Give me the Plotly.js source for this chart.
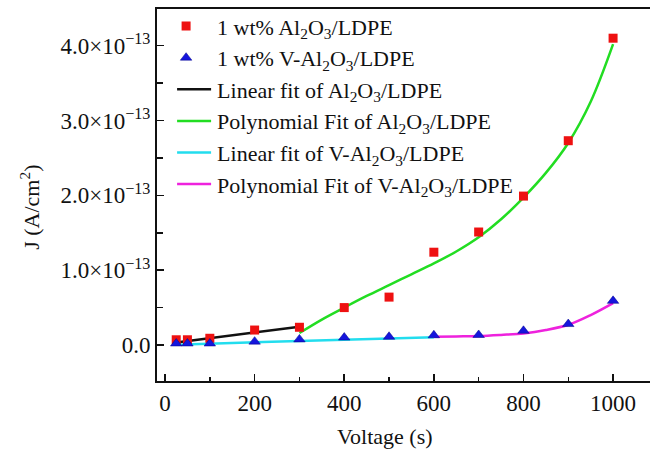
<!DOCTYPE html>
<html>
<head>
<meta charset="utf-8">
<script src="https://cdn.plot.ly/plotly-3.0.1.min.js"></script>
<style>
html, body { margin: 0; padding: 0; overflow: hidden; background: #fff; }
#chart { width: 720px; height: 455px; }
</style>
</head>
<body>
<div id="chart"></div>
<script>
// ---- data (J in units of 1e-13 A/cm^2) ----
const voltage = [25, 50, 100, 200, 300, 400, 500, 600, 700, 800, 900, 1000];
const jAl2O3 = [0.07, 0.07, 0.09, 0.20, 0.237, 0.50, 0.64, 1.24, 1.51, 1.99, 2.73, 4.10];
const jVAl2O3 = [0.02, 0.02, 0.02, 0.045, 0.075, 0.10, 0.11, 0.13, 0.134, 0.19, 0.28, 0.59];

const linFitAlX = [25, 300];
const linFitAlY = [0.035, 0.245];
const polyFitAlX = [300, 350, 400, 450, 500, 550, 600, 650, 700, 750, 800, 850, 900, 950, 1000];
const polyFitAlY = [0.16, 0.34, 0.50, 0.655, 0.80, 0.945, 1.09, 1.25, 1.44, 1.68, 1.97, 2.30, 2.70, 3.25, 4.02];
const linFitVX = [25, 600];
const linFitVY = [0.005, 0.105];
const polyFitVX = [600, 650, 700, 750, 800, 850, 900, 950, 1000];
const polyFitVY = [0.11, 0.115, 0.12, 0.135, 0.155, 0.20, 0.27, 0.40, 0.56];

const yTickVals = [0, 1, 2, 3, 4];
const yTickText = ['0.0', '1.0×10<sup>−13</sup>', '2.0×10<sup>−13</sup>', '3.0×10<sup>−13</sup>', '4.0×10<sup>−13</sup>'];

const names = [
  '1 wt% Al<sub>2</sub>O<sub>3</sub>/LDPE',
  '1 wt% V-Al<sub>2</sub>O<sub>3</sub>/LDPE',
  'Linear fit of Al<sub>2</sub>O<sub>3</sub>/LDPE',
  'Polynomial Fit of Al<sub>2</sub>O<sub>3</sub>/LDPE',
  'Linear fit of V-Al<sub>2</sub>O<sub>3</sub>/LDPE',
  'Polynomial Fit of V-Al<sub>2</sub>O<sub>3</sub>/LDPE'
];

const e = 1e-13;
const sc = arr => arr.map(v => v * e);

const traces = [
  {x: linFitAlX, y: sc(linFitAlY), mode: 'lines', name: names[2], legendrank: 3, legendgroup: 'c',
   line: {color: '#111111', width: 2.5}},
  {x: polyFitAlX, y: sc(polyFitAlY), mode: 'lines', name: names[3], legendrank: 4, legendgroup: 'd',
   line: {color: '#22dd22', width: 2.5, shape: 'spline'}},
  {x: linFitVX, y: sc(linFitVY), mode: 'lines', name: names[4], legendrank: 5, legendgroup: 'e',
   line: {color: '#22ddee', width: 2.5}},
  {x: polyFitVX, y: sc(polyFitVY), mode: 'lines', name: names[5], legendrank: 6, legendgroup: 'f',
   line: {color: '#ee22dd', width: 2.5, shape: 'spline'}},
  {x: voltage, y: sc(jAl2O3), mode: 'markers', name: names[0], legendrank: 1, legendgroup: 'a',
   marker: {symbol: 'square', size: 9, color: '#ee1111'}},
  {x: voltage, y: sc(jVAl2O3), mode: 'markers', name: names[1], legendrank: 2, legendgroup: 'b',
   marker: {symbol: 'triangle-up', size: 10, color: '#1515dd', line: {color: '#000088', width: 0.5}}}
];

const font = 'Liberation Serif, Times New Roman, serif';

const layout = {
  width: 720, height: 455,
  margin: {l: 157, r: 20, t: 9, b: 74, autoexpand: false},
  paper_bgcolor: '#fff', plot_bgcolor: '#fff',
  font: {family: font, size: 22, color: '#111'},
  showlegend: true,
  legend: {x: 0.037, y: 1.01, xanchor: 'left', yanchor: 'top', bgcolor: 'rgba(0,0,0,0)',
           font: {family: font, size: 22, color: '#111'}, tracegroupgap: 13, traceorder: 'normal'},
  xaxis: {
    range: [-17.9, 1194], showgrid: false, zeroline: false,
    showline: true, linecolor: '#111', linewidth: 2, mirror: true,
    ticks: 'inside', ticklen: 7, tickwidth: 1.5, tickcolor: '#111',
    tickvals: [0, 200, 400, 600, 800, 1000],
    ticktext: ['0', '200', '400', '600', '800', '1000'],
    tickfont: {family: font, size: 23, color: '#111'},
    minor: {tickvals: [100, 300, 500, 700, 900], ticks: 'inside', ticklen: 4, tickwidth: 1.5, tickcolor: '#111'}
  },
  yaxis: {
    range: [-0.481e-13, 4.49e-13], showgrid: false, zeroline: false,
    showline: true, linecolor: '#111', linewidth: 2, mirror: true,
    ticks: 'inside', ticklen: 7, tickwidth: 1.5, tickcolor: '#111',
    tickvals: sc(yTickVals), ticktext: yTickText,
    tickfont: {family: font, size: 23, color: '#111'},
    minor: {tickvals: sc([0.5, 1.5, 2.5, 3.5]), ticks: 'inside', ticklen: 6, tickwidth: 1.5, tickcolor: '#111'}
  },
  annotations: [
    {text: 'Voltage (s)', xref: 'paper', yref: 'paper', x: 0.42, y: -0.15, xanchor: 'center', yanchor: 'middle',
     showarrow: false, font: {family: font, size: 22, color: '#111'}},
    {text: 'J (A/cm<sup>2</sup>)', xref: 'paper', yref: 'paper', x: -0.234, y: 0.468, xanchor: 'center', yanchor: 'middle',
     textangle: -90, showarrow: false, font: {family: font, size: 22, color: '#111'}}
  ]
};

Plotly.newPlot('chart', traces, layout, {displayModeBar: false, staticPlot: true}).then(() => {
  // widen legend line samples and move legend markers left, as in the reference
  document.querySelectorAll('.legend .legendlines path').forEach(p => p.setAttribute('d', 'M-17,0h51'));
  document.querySelectorAll('.legend .legendpoints path.scatterpts').forEach(p => p.setAttribute('transform', 'translate(9,0)'));
});
</script>
</body>
</html>
